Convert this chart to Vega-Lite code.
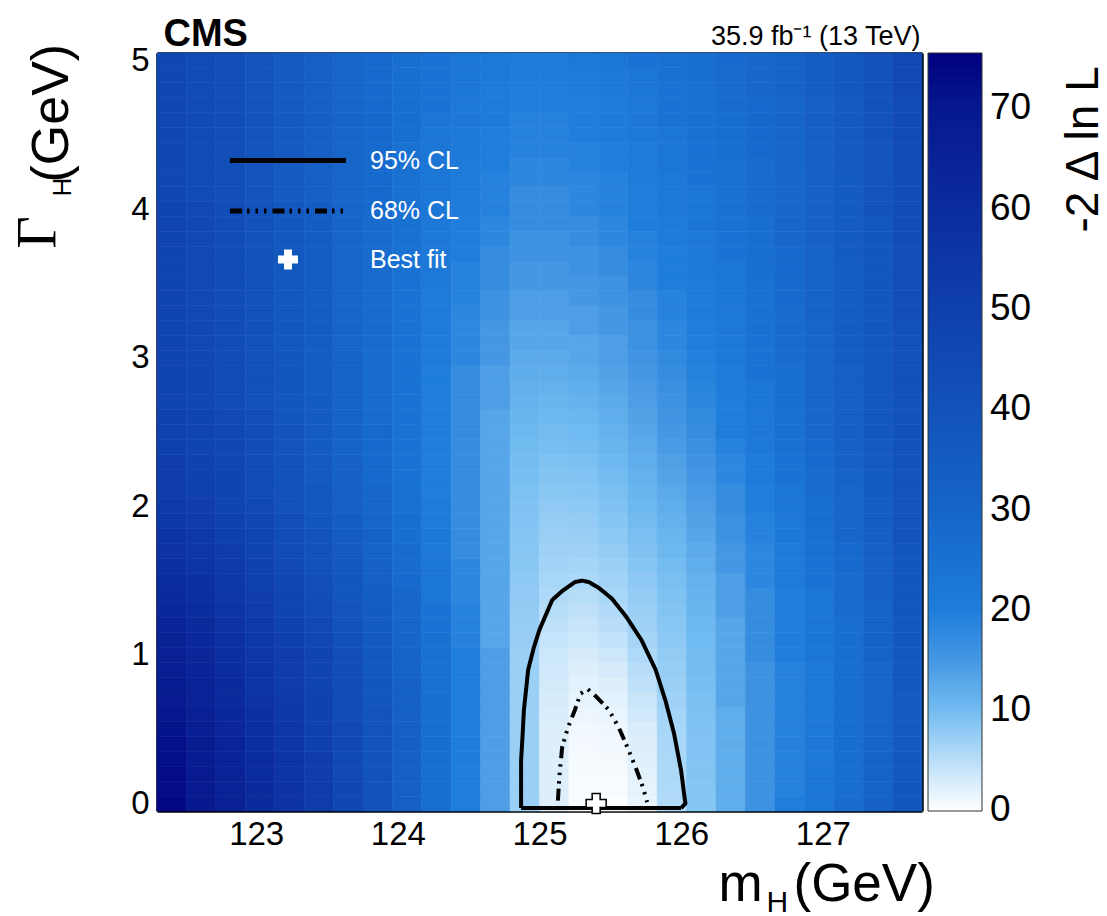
{
"$schema": "https://vega.github.io/schema/vega-lite/v6.json",
"autosize": {"type": "none"},
"width": 765,
"height": 758,
"padding": {"left": 157, "top": 53, "right": 185, "bottom": 105},
"background": "white",
"config": {
  "view": {"stroke": null},
  "font": "Liberation Sans",
  "axis": {"grid": false, "zindex": 1, "labelFont": "Liberation Sans", "titleFont": "Liberation Sans", "titleFontWeight": "normal", "tickColor": "black", "domainColor": "black", "labelColor": "black", "titleColor": "black", "tickWidth": 2, "domainWidth": 2.5, "labelFlush": false, "labelOverlap": false, "labelFontSize": 33, "titlePadding": 0},
  "legend": {"zindex": 1, "labelFont": "Liberation Sans", "padding": 0, "labelLimit": 0}
},
"datasets": {
"cols": [
{"i":0,"m":122.3,"m2":122.5077},{"i":1,"m":122.5077,"m2":122.7154},{"i":2,"m":122.7154,"m2":122.9231},{"i":3,"m":122.9231,"m2":123.1308},{"i":4,"m":123.1308,"m2":123.3385},{"i":5,"m":123.3385,"m2":123.5462},{"i":6,"m":123.5462,"m2":123.7538},{"i":7,"m":123.7538,"m2":123.9615},{"i":8,"m":123.9615,"m2":124.1692},{"i":9,"m":124.1692,"m2":124.3769},{"i":10,"m":124.3769,"m2":124.5846},{"i":11,"m":124.5846,"m2":124.7923},{"i":12,"m":124.7923,"m2":125.0},{"i":13,"m":125.0,"m2":125.2077},{"i":14,"m":125.2077,"m2":125.4154},{"i":15,"m":125.4154,"m2":125.6231},{"i":16,"m":125.6231,"m2":125.8308},{"i":17,"m":125.8308,"m2":126.0385},{"i":18,"m":126.0385,"m2":126.2462},{"i":19,"m":126.2462,"m2":126.4538},{"i":20,"m":126.4538,"m2":126.6615},{"i":21,"m":126.6615,"m2":126.8692},{"i":22,"m":126.8692,"m2":127.0769},{"i":23,"m":127.0769,"m2":127.2846},{"i":24,"m":127.2846,"m2":127.4923},{"i":25,"m":127.4923,"m2":127.7}
],
"rows": [
{"j":0,"g":-0.05,"g2":0.05},{"j":1,"g":0.05,"g2":0.15},{"j":2,"g":0.15,"g2":0.25},{"j":3,"g":0.25,"g2":0.35},{"j":4,"g":0.35,"g2":0.45},{"j":5,"g":0.45,"g2":0.55},{"j":6,"g":0.55,"g2":0.65},{"j":7,"g":0.65,"g2":0.75},{"j":8,"g":0.75,"g2":0.85},{"j":9,"g":0.85,"g2":0.95},{"j":10,"g":0.95,"g2":1.05},{"j":11,"g":1.05,"g2":1.15},{"j":12,"g":1.15,"g2":1.25},{"j":13,"g":1.25,"g2":1.35},{"j":14,"g":1.35,"g2":1.45},{"j":15,"g":1.45,"g2":1.55},{"j":16,"g":1.55,"g2":1.65},{"j":17,"g":1.65,"g2":1.75},{"j":18,"g":1.75,"g2":1.85},{"j":19,"g":1.85,"g2":1.95},{"j":20,"g":1.95,"g2":2.05},{"j":21,"g":2.05,"g2":2.15},{"j":22,"g":2.15,"g2":2.25},{"j":23,"g":2.25,"g2":2.35},{"j":24,"g":2.35,"g2":2.45},{"j":25,"g":2.45,"g2":2.55},{"j":26,"g":2.55,"g2":2.65},{"j":27,"g":2.65,"g2":2.75},{"j":28,"g":2.75,"g2":2.85},{"j":29,"g":2.85,"g2":2.95},{"j":30,"g":2.95,"g2":3.05},{"j":31,"g":3.05,"g2":3.15},{"j":32,"g":3.15,"g2":3.25},{"j":33,"g":3.25,"g2":3.35},{"j":34,"g":3.35,"g2":3.45},{"j":35,"g":3.45,"g2":3.55},{"j":36,"g":3.55,"g2":3.65},{"j":37,"g":3.65,"g2":3.75},{"j":38,"g":3.75,"g2":3.85},{"j":39,"g":3.85,"g2":3.95},{"j":40,"g":3.95,"g2":4.05},{"j":41,"g":4.05,"g2":4.15},{"j":42,"g":4.15,"g2":4.25},{"j":43,"g":4.25,"g2":4.35},{"j":44,"g":4.35,"g2":4.45},{"j":45,"g":4.45,"g2":4.55},{"j":46,"g":4.55,"g2":4.65},{"j":47,"g":4.65,"g2":4.75},{"j":48,"g":4.75,"g2":4.85},{"j":49,"g":4.85,"g2":4.95},{"j":50,"g":4.95,"g2":5.05}
],
"cells": [
{"i":0,"j":0,"z":74},{"i":0,"j":1,"z":73},{"i":0,"j":2,"z":73},{"i":0,"j":3,"z":72},{"i":0,"j":4,"z":72},{"i":0,"j":5,"z":71},{"i":0,"j":6,"z":70},{"i":0,"j":7,"z":69},{"i":0,"j":8,"z":68},{"i":0,"j":9,"z":67},{"i":0,"j":10,"z":66},{"i":0,"j":11,"z":65},{"i":0,"j":12,"z":64},{"i":0,"j":13,"z":62},{"i":0,"j":14,"z":61},{"i":0,"j":15,"z":60},{"i":0,"j":16,"z":59},{"i":0,"j":17,"z":57},{"i":0,"j":18,"z":56},{"i":0,"j":19,"z":54},{"i":0,"j":20,"z":53},{"i":0,"j":21,"z":52},{"i":0,"j":22,"z":51},{"i":0,"j":23,"z":51},{"i":0,"j":24,"z":50},{"i":0,"j":25,"z":49},{"i":0,"j":26,"z":49},{"i":0,"j":27,"z":48},{"i":0,"j":28,"z":48},{"i":0,"j":29,"z":48},{"i":0,"j":30,"z":48},{"i":0,"j":31,"z":47},{"i":0,"j":32,"z":47},{"i":0,"j":33,"z":47},{"i":0,"j":34,"z":47},{"i":0,"j":35,"z":47},{"i":0,"j":36,"z":47},{"i":0,"j":37,"z":47},{"i":0,"j":38,"z":47},{"i":0,"j":39,"z":47},{"i":0,"j":40,"z":47},{"i":0,"j":41,"z":46},{"i":0,"j":42,"z":46},{"i":0,"j":43,"z":46},{"i":0,"j":44,"z":46},{"i":0,"j":45,"z":46},{"i":0,"j":46,"z":46},{"i":0,"j":47,"z":46},{"i":0,"j":48,"z":46},{"i":0,"j":49,"z":46},{"i":0,"j":50,"z":46},
{"i":1,"j":0,"z":70},{"i":1,"j":1,"z":69},{"i":1,"j":2,"z":69},{"i":1,"j":3,"z":68},{"i":1,"j":4,"z":68},{"i":1,"j":5,"z":67},{"i":1,"j":6,"z":66},{"i":1,"j":7,"z":65},{"i":1,"j":8,"z":65},{"i":1,"j":9,"z":64},{"i":1,"j":10,"z":63},{"i":1,"j":11,"z":62},{"i":1,"j":12,"z":61},{"i":1,"j":13,"z":60},{"i":1,"j":14,"z":59},{"i":1,"j":15,"z":58},{"i":1,"j":16,"z":56},{"i":1,"j":17,"z":55},{"i":1,"j":18,"z":54},{"i":1,"j":19,"z":52},{"i":1,"j":20,"z":51},{"i":1,"j":21,"z":50},{"i":1,"j":22,"z":49},{"i":1,"j":23,"z":49},{"i":1,"j":24,"z":48},{"i":1,"j":25,"z":47},{"i":1,"j":26,"z":47},{"i":1,"j":27,"z":46},{"i":1,"j":28,"z":46},{"i":1,"j":29,"z":46},{"i":1,"j":30,"z":46},{"i":1,"j":31,"z":45},{"i":1,"j":32,"z":45},{"i":1,"j":33,"z":45},{"i":1,"j":34,"z":45},{"i":1,"j":35,"z":45},{"i":1,"j":36,"z":45},{"i":1,"j":37,"z":45},{"i":1,"j":38,"z":45},{"i":1,"j":39,"z":45},{"i":1,"j":40,"z":45},{"i":1,"j":41,"z":44},{"i":1,"j":42,"z":44},{"i":1,"j":43,"z":44},{"i":1,"j":44,"z":44},{"i":1,"j":45,"z":44},{"i":1,"j":46,"z":44},{"i":1,"j":47,"z":44},{"i":1,"j":48,"z":44},{"i":1,"j":49,"z":44},{"i":1,"j":50,"z":44},
{"i":2,"j":0,"z":66},{"i":2,"j":1,"z":65},{"i":2,"j":2,"z":65},{"i":2,"j":3,"z":64},{"i":2,"j":4,"z":64},{"i":2,"j":5,"z":63},{"i":2,"j":6,"z":62},{"i":2,"j":7,"z":61},{"i":2,"j":8,"z":61},{"i":2,"j":9,"z":60},{"i":2,"j":10,"z":59},{"i":2,"j":11,"z":58},{"i":2,"j":12,"z":57},{"i":2,"j":13,"z":56},{"i":2,"j":14,"z":55},{"i":2,"j":15,"z":54},{"i":2,"j":16,"z":53},{"i":2,"j":17,"z":52},{"i":2,"j":18,"z":50},{"i":2,"j":19,"z":49},{"i":2,"j":20,"z":48},{"i":2,"j":21,"z":47},{"i":2,"j":22,"z":47},{"i":2,"j":23,"z":46},{"i":2,"j":24,"z":46},{"i":2,"j":25,"z":45},{"i":2,"j":26,"z":45},{"i":2,"j":27,"z":44},{"i":2,"j":28,"z":44},{"i":2,"j":29,"z":44},{"i":2,"j":30,"z":44},{"i":2,"j":31,"z":43},{"i":2,"j":32,"z":43},{"i":2,"j":33,"z":43},{"i":2,"j":34,"z":43},{"i":2,"j":35,"z":43},{"i":2,"j":36,"z":43},{"i":2,"j":37,"z":43},{"i":2,"j":38,"z":43},{"i":2,"j":39,"z":43},{"i":2,"j":40,"z":43},{"i":2,"j":41,"z":42},{"i":2,"j":42,"z":42},{"i":2,"j":43,"z":42},{"i":2,"j":44,"z":42},{"i":2,"j":45,"z":42},{"i":2,"j":46,"z":42},{"i":2,"j":47,"z":42},{"i":2,"j":48,"z":42},{"i":2,"j":49,"z":42},{"i":2,"j":50,"z":42},
{"i":3,"j":0,"z":61},{"i":3,"j":1,"z":61},{"i":3,"j":2,"z":60},{"i":3,"j":3,"z":60},{"i":3,"j":4,"z":59},{"i":3,"j":5,"z":59},{"i":3,"j":6,"z":58},{"i":3,"j":7,"z":57},{"i":3,"j":8,"z":56},{"i":3,"j":9,"z":56},{"i":3,"j":10,"z":55},{"i":3,"j":11,"z":54},{"i":3,"j":12,"z":53},{"i":3,"j":13,"z":52},{"i":3,"j":14,"z":51},{"i":3,"j":15,"z":50},{"i":3,"j":16,"z":49},{"i":3,"j":17,"z":48},{"i":3,"j":18,"z":47},{"i":3,"j":19,"z":46},{"i":3,"j":20,"z":45},{"i":3,"j":21,"z":44},{"i":3,"j":22,"z":44},{"i":3,"j":23,"z":43},{"i":3,"j":24,"z":43},{"i":3,"j":25,"z":42},{"i":3,"j":26,"z":42},{"i":3,"j":27,"z":41},{"i":3,"j":28,"z":41},{"i":3,"j":29,"z":41},{"i":3,"j":30,"z":41},{"i":3,"j":31,"z":40},{"i":3,"j":32,"z":40},{"i":3,"j":33,"z":40},{"i":3,"j":34,"z":40},{"i":3,"j":35,"z":40},{"i":3,"j":36,"z":40},{"i":3,"j":37,"z":40},{"i":3,"j":38,"z":40},{"i":3,"j":39,"z":40},{"i":3,"j":40,"z":40},{"i":3,"j":41,"z":39},{"i":3,"j":42,"z":39},{"i":3,"j":43,"z":39},{"i":3,"j":44,"z":39},{"i":3,"j":45,"z":39},{"i":3,"j":46,"z":39},{"i":3,"j":47,"z":39},{"i":3,"j":48,"z":39},{"i":3,"j":49,"z":39},{"i":3,"j":50,"z":39},
{"i":4,"j":0,"z":57},{"i":4,"j":1,"z":57},{"i":4,"j":2,"z":56},{"i":4,"j":3,"z":56},{"i":4,"j":4,"z":55},{"i":4,"j":5,"z":55},{"i":4,"j":6,"z":54},{"i":4,"j":7,"z":53},{"i":4,"j":8,"z":52},{"i":4,"j":9,"z":52},{"i":4,"j":10,"z":51},{"i":4,"j":11,"z":50},{"i":4,"j":12,"z":49},{"i":4,"j":13,"z":48},{"i":4,"j":14,"z":47},{"i":4,"j":15,"z":46},{"i":4,"j":16,"z":45},{"i":4,"j":17,"z":44},{"i":4,"j":18,"z":43},{"i":4,"j":19,"z":42},{"i":4,"j":20,"z":41},{"i":4,"j":21,"z":41},{"i":4,"j":22,"z":40},{"i":4,"j":23,"z":40},{"i":4,"j":24,"z":39},{"i":4,"j":25,"z":39},{"i":4,"j":26,"z":38},{"i":4,"j":27,"z":38},{"i":4,"j":28,"z":38},{"i":4,"j":29,"z":38},{"i":4,"j":30,"z":38},{"i":4,"j":31,"z":37},{"i":4,"j":32,"z":37},{"i":4,"j":33,"z":37},{"i":4,"j":34,"z":37},{"i":4,"j":35,"z":37},{"i":4,"j":36,"z":37},{"i":4,"j":37,"z":37},{"i":4,"j":38,"z":37},{"i":4,"j":39,"z":37},{"i":4,"j":40,"z":37},{"i":4,"j":41,"z":36},{"i":4,"j":42,"z":36},{"i":4,"j":43,"z":36},{"i":4,"j":44,"z":36},{"i":4,"j":45,"z":36},{"i":4,"j":46,"z":36},{"i":4,"j":47,"z":36},{"i":4,"j":48,"z":36},{"i":4,"j":49,"z":36},{"i":4,"j":50,"z":36},
{"i":5,"j":0,"z":52},{"i":5,"j":1,"z":52},{"i":5,"j":2,"z":51},{"i":5,"j":3,"z":51},{"i":5,"j":4,"z":50},{"i":5,"j":5,"z":50},{"i":5,"j":6,"z":49},{"i":5,"j":7,"z":49},{"i":5,"j":8,"z":48},{"i":5,"j":9,"z":48},{"i":5,"j":10,"z":47},{"i":5,"j":11,"z":46},{"i":5,"j":12,"z":45},{"i":5,"j":13,"z":44},{"i":5,"j":14,"z":43},{"i":5,"j":15,"z":42},{"i":5,"j":16,"z":41},{"i":5,"j":17,"z":40},{"i":5,"j":18,"z":39},{"i":5,"j":19,"z":38},{"i":5,"j":20,"z":37},{"i":5,"j":21,"z":37},{"i":5,"j":22,"z":36},{"i":5,"j":23,"z":36},{"i":5,"j":24,"z":35},{"i":5,"j":25,"z":35},{"i":5,"j":26,"z":35},{"i":5,"j":27,"z":35},{"i":5,"j":28,"z":34},{"i":5,"j":29,"z":34},{"i":5,"j":30,"z":34},{"i":5,"j":31,"z":34},{"i":5,"j":32,"z":34},{"i":5,"j":33,"z":34},{"i":5,"j":34,"z":34},{"i":5,"j":35,"z":34},{"i":5,"j":36,"z":34},{"i":5,"j":37,"z":34},{"i":5,"j":38,"z":34},{"i":5,"j":39,"z":34},{"i":5,"j":40,"z":34},{"i":5,"j":41,"z":33},{"i":5,"j":42,"z":33},{"i":5,"j":43,"z":33},{"i":5,"j":44,"z":33},{"i":5,"j":45,"z":33},{"i":5,"j":46,"z":33},{"i":5,"j":47,"z":33},{"i":5,"j":48,"z":33},{"i":5,"j":49,"z":33},{"i":5,"j":50,"z":33},
{"i":6,"j":0,"z":46},{"i":6,"j":1,"z":46},{"i":6,"j":2,"z":45},{"i":6,"j":3,"z":45},{"i":6,"j":4,"z":45},{"i":6,"j":5,"z":45},{"i":6,"j":6,"z":44},{"i":6,"j":7,"z":44},{"i":6,"j":8,"z":43},{"i":6,"j":9,"z":43},{"i":6,"j":10,"z":42},{"i":6,"j":11,"z":41},{"i":6,"j":12,"z":40},{"i":6,"j":13,"z":39},{"i":6,"j":14,"z":38},{"i":6,"j":15,"z":38},{"i":6,"j":16,"z":37},{"i":6,"j":17,"z":36},{"i":6,"j":18,"z":35},{"i":6,"j":19,"z":34},{"i":6,"j":20,"z":33},{"i":6,"j":21,"z":33},{"i":6,"j":22,"z":32},{"i":6,"j":23,"z":32},{"i":6,"j":24,"z":31},{"i":6,"j":25,"z":31},{"i":6,"j":26,"z":31},{"i":6,"j":27,"z":31},{"i":6,"j":28,"z":31},{"i":6,"j":29,"z":31},{"i":6,"j":30,"z":31},{"i":6,"j":31,"z":30},{"i":6,"j":32,"z":30},{"i":6,"j":33,"z":30},{"i":6,"j":34,"z":30},{"i":6,"j":35,"z":30},{"i":6,"j":36,"z":30},{"i":6,"j":37,"z":30},{"i":6,"j":38,"z":30},{"i":6,"j":39,"z":30},{"i":6,"j":40,"z":30},{"i":6,"j":41,"z":30},{"i":6,"j":42,"z":30},{"i":6,"j":43,"z":30},{"i":6,"j":44,"z":30},{"i":6,"j":45,"z":30},{"i":6,"j":46,"z":30},{"i":6,"j":47,"z":30},{"i":6,"j":48,"z":30},{"i":6,"j":49,"z":30},{"i":6,"j":50,"z":30},
{"i":7,"j":0,"z":40},{"i":7,"j":1,"z":40},{"i":7,"j":2,"z":40},{"i":7,"j":3,"z":39},{"i":7,"j":4,"z":39},{"i":7,"j":5,"z":39},{"i":7,"j":6,"z":39},{"i":7,"j":7,"z":38},{"i":7,"j":8,"z":38},{"i":7,"j":9,"z":37},{"i":7,"j":10,"z":37},{"i":7,"j":11,"z":36},{"i":7,"j":12,"z":35},{"i":7,"j":13,"z":35},{"i":7,"j":14,"z":34},{"i":7,"j":15,"z":33},{"i":7,"j":16,"z":32},{"i":7,"j":17,"z":31},{"i":7,"j":18,"z":31},{"i":7,"j":19,"z":30},{"i":7,"j":20,"z":29},{"i":7,"j":21,"z":29},{"i":7,"j":22,"z":28},{"i":7,"j":23,"z":28},{"i":7,"j":24,"z":28},{"i":7,"j":25,"z":28},{"i":7,"j":26,"z":27},{"i":7,"j":27,"z":27},{"i":7,"j":28,"z":27},{"i":7,"j":29,"z":27},{"i":7,"j":30,"z":27},{"i":7,"j":31,"z":27},{"i":7,"j":32,"z":27},{"i":7,"j":33,"z":27},{"i":7,"j":34,"z":27},{"i":7,"j":35,"z":27},{"i":7,"j":36,"z":27},{"i":7,"j":37,"z":27},{"i":7,"j":38,"z":27},{"i":7,"j":39,"z":27},{"i":7,"j":40,"z":28},{"i":7,"j":41,"z":28},{"i":7,"j":42,"z":28},{"i":7,"j":43,"z":28},{"i":7,"j":44,"z":28},{"i":7,"j":45,"z":28},{"i":7,"j":46,"z":28},{"i":7,"j":47,"z":28},{"i":7,"j":48,"z":28},{"i":7,"j":49,"z":28},{"i":7,"j":50,"z":28},
{"i":8,"j":0,"z":33},{"i":8,"j":1,"z":33},{"i":8,"j":2,"z":33},{"i":8,"j":3,"z":33},{"i":8,"j":4,"z":33},{"i":8,"j":5,"z":33},{"i":8,"j":6,"z":32},{"i":8,"j":7,"z":32},{"i":8,"j":8,"z":32},{"i":8,"j":9,"z":31},{"i":8,"j":10,"z":31},{"i":8,"j":11,"z":30},{"i":8,"j":12,"z":30},{"i":8,"j":13,"z":29},{"i":8,"j":14,"z":29},{"i":8,"j":15,"z":28},{"i":8,"j":16,"z":27},{"i":8,"j":17,"z":27},{"i":8,"j":18,"z":26},{"i":8,"j":19,"z":26},{"i":8,"j":20,"z":25},{"i":8,"j":21,"z":25},{"i":8,"j":22,"z":24},{"i":8,"j":23,"z":24},{"i":8,"j":24,"z":24},{"i":8,"j":25,"z":24},{"i":8,"j":26,"z":24},{"i":8,"j":27,"z":24},{"i":8,"j":28,"z":24},{"i":8,"j":29,"z":24},{"i":8,"j":30,"z":24},{"i":8,"j":31,"z":24},{"i":8,"j":32,"z":24},{"i":8,"j":33,"z":24},{"i":8,"j":34,"z":24},{"i":8,"j":35,"z":24},{"i":8,"j":36,"z":24},{"i":8,"j":37,"z":25},{"i":8,"j":38,"z":25},{"i":8,"j":39,"z":25},{"i":8,"j":40,"z":25},{"i":8,"j":41,"z":25},{"i":8,"j":42,"z":25},{"i":8,"j":43,"z":25},{"i":8,"j":44,"z":25},{"i":8,"j":45,"z":26},{"i":8,"j":46,"z":26},{"i":8,"j":47,"z":26},{"i":8,"j":48,"z":26},{"i":8,"j":49,"z":26},{"i":8,"j":50,"z":26},
{"i":9,"j":0,"z":26},{"i":9,"j":1,"z":26},{"i":9,"j":2,"z":26},{"i":9,"j":3,"z":26},{"i":9,"j":4,"z":26},{"i":9,"j":5,"z":26},{"i":9,"j":6,"z":26},{"i":9,"j":7,"z":26},{"i":9,"j":8,"z":25},{"i":9,"j":9,"z":25},{"i":9,"j":10,"z":25},{"i":9,"j":11,"z":25},{"i":9,"j":12,"z":24},{"i":9,"j":13,"z":24},{"i":9,"j":14,"z":23},{"i":9,"j":15,"z":23},{"i":9,"j":16,"z":23},{"i":9,"j":17,"z":22},{"i":9,"j":18,"z":22},{"i":9,"j":19,"z":21},{"i":9,"j":20,"z":21},{"i":9,"j":21,"z":20},{"i":9,"j":22,"z":20},{"i":9,"j":23,"z":20},{"i":9,"j":24,"z":20},{"i":9,"j":25,"z":20},{"i":9,"j":26,"z":20},{"i":9,"j":27,"z":20},{"i":9,"j":28,"z":20},{"i":9,"j":29,"z":20},{"i":9,"j":30,"z":21},{"i":9,"j":31,"z":21},{"i":9,"j":32,"z":21},{"i":9,"j":33,"z":21},{"i":9,"j":34,"z":21},{"i":9,"j":35,"z":22},{"i":9,"j":36,"z":22},{"i":9,"j":37,"z":22},{"i":9,"j":38,"z":22},{"i":9,"j":39,"z":22},{"i":9,"j":40,"z":23},{"i":9,"j":41,"z":23},{"i":9,"j":42,"z":23},{"i":9,"j":43,"z":23},{"i":9,"j":44,"z":23},{"i":9,"j":45,"z":23},{"i":9,"j":46,"z":23},{"i":9,"j":47,"z":24},{"i":9,"j":48,"z":24},{"i":9,"j":49,"z":24},{"i":9,"j":50,"z":24},
{"i":10,"j":0,"z":20},{"i":10,"j":1,"z":20},{"i":10,"j":2,"z":20},{"i":10,"j":3,"z":20},{"i":10,"j":4,"z":20},{"i":10,"j":5,"z":20},{"i":10,"j":6,"z":20},{"i":10,"j":7,"z":20},{"i":10,"j":8,"z":20},{"i":10,"j":9,"z":20},{"i":10,"j":10,"z":20},{"i":10,"j":11,"z":19},{"i":10,"j":12,"z":19},{"i":10,"j":13,"z":19},{"i":10,"j":14,"z":18},{"i":10,"j":15,"z":18},{"i":10,"j":16,"z":18},{"i":10,"j":17,"z":17},{"i":10,"j":18,"z":17},{"i":10,"j":19,"z":17},{"i":10,"j":20,"z":17},{"i":10,"j":21,"z":17},{"i":10,"j":22,"z":17},{"i":10,"j":23,"z":17},{"i":10,"j":24,"z":17},{"i":10,"j":25,"z":17},{"i":10,"j":26,"z":17},{"i":10,"j":27,"z":17},{"i":10,"j":28,"z":17},{"i":10,"j":29,"z":17},{"i":10,"j":30,"z":18},{"i":10,"j":31,"z":18},{"i":10,"j":32,"z":18},{"i":10,"j":33,"z":18},{"i":10,"j":34,"z":19},{"i":10,"j":35,"z":19},{"i":10,"j":36,"z":19},{"i":10,"j":37,"z":20},{"i":10,"j":38,"z":20},{"i":10,"j":39,"z":20},{"i":10,"j":40,"z":21},{"i":10,"j":41,"z":21},{"i":10,"j":42,"z":21},{"i":10,"j":43,"z":21},{"i":10,"j":44,"z":22},{"i":10,"j":45,"z":22},{"i":10,"j":46,"z":22},{"i":10,"j":47,"z":22},{"i":10,"j":48,"z":23},{"i":10,"j":49,"z":23},{"i":10,"j":50,"z":23},
{"i":11,"j":0,"z":14},{"i":11,"j":1,"z":14},{"i":11,"j":2,"z":14},{"i":11,"j":3,"z":14},{"i":11,"j":4,"z":14},{"i":11,"j":5,"z":14},{"i":11,"j":6,"z":14},{"i":11,"j":7,"z":14},{"i":11,"j":8,"z":14},{"i":11,"j":9,"z":14},{"i":11,"j":10,"z":14},{"i":11,"j":11,"z":13},{"i":11,"j":12,"z":13},{"i":11,"j":13,"z":13},{"i":11,"j":14,"z":13},{"i":11,"j":15,"z":13},{"i":11,"j":16,"z":13},{"i":11,"j":17,"z":13},{"i":11,"j":18,"z":13},{"i":11,"j":19,"z":13},{"i":11,"j":20,"z":13},{"i":11,"j":21,"z":13},{"i":11,"j":22,"z":13},{"i":11,"j":23,"z":13},{"i":11,"j":24,"z":13},{"i":11,"j":25,"z":13},{"i":11,"j":26,"z":13},{"i":11,"j":27,"z":14},{"i":11,"j":28,"z":14},{"i":11,"j":29,"z":14},{"i":11,"j":30,"z":15},{"i":11,"j":31,"z":15},{"i":11,"j":32,"z":15},{"i":11,"j":33,"z":16},{"i":11,"j":34,"z":16},{"i":11,"j":35,"z":17},{"i":11,"j":36,"z":17},{"i":11,"j":37,"z":17},{"i":11,"j":38,"z":18},{"i":11,"j":39,"z":18},{"i":11,"j":40,"z":19},{"i":11,"j":41,"z":19},{"i":11,"j":42,"z":19},{"i":11,"j":43,"z":20},{"i":11,"j":44,"z":20},{"i":11,"j":45,"z":20},{"i":11,"j":46,"z":21},{"i":11,"j":47,"z":21},{"i":11,"j":48,"z":21},{"i":11,"j":49,"z":22},{"i":11,"j":50,"z":22},
{"i":12,"j":0,"z":7},{"i":12,"j":1,"z":7},{"i":12,"j":2,"z":7},{"i":12,"j":3,"z":7},{"i":12,"j":4,"z":7},{"i":12,"j":5,"z":7},{"i":12,"j":6,"z":7},{"i":12,"j":7,"z":7},{"i":12,"j":8,"z":7},{"i":12,"j":9,"z":7},{"i":12,"j":10,"z":7},{"i":12,"j":11,"z":7.2},{"i":12,"j":12,"z":7.4},{"i":12,"j":13,"z":7.6},{"i":12,"j":14,"z":7.8},{"i":12,"j":15,"z":8},{"i":12,"j":16,"z":8.2},{"i":12,"j":17,"z":8.4},{"i":12,"j":18,"z":8.6},{"i":12,"j":19,"z":8.8},{"i":12,"j":20,"z":9},{"i":12,"j":21,"z":9.3},{"i":12,"j":22,"z":9.6},{"i":12,"j":23,"z":9.9},{"i":12,"j":24,"z":10.2},{"i":12,"j":25,"z":10.5},{"i":12,"j":26,"z":10.9},{"i":12,"j":27,"z":11.3},{"i":12,"j":28,"z":11.7},{"i":12,"j":29,"z":12.1},{"i":12,"j":30,"z":12.5},{"i":12,"j":31,"z":13},{"i":12,"j":32,"z":13},{"i":12,"j":33,"z":14},{"i":12,"j":34,"z":14},{"i":12,"j":35,"z":15},{"i":12,"j":36,"z":15},{"i":12,"j":37,"z":16},{"i":12,"j":38,"z":16},{"i":12,"j":39,"z":17},{"i":12,"j":40,"z":17},{"i":12,"j":41,"z":17},{"i":12,"j":42,"z":18},{"i":12,"j":43,"z":18},{"i":12,"j":44,"z":19},{"i":12,"j":45,"z":19},{"i":12,"j":46,"z":19},{"i":12,"j":47,"z":20},{"i":12,"j":48,"z":20},{"i":12,"j":49,"z":21},{"i":12,"j":50,"z":21},
{"i":13,"j":0,"z":3},{"i":13,"j":1,"z":3},{"i":13,"j":2,"z":3},{"i":13,"j":3,"z":3},{"i":13,"j":4,"z":3},{"i":13,"j":5,"z":3},{"i":13,"j":6,"z":3.2},{"i":13,"j":7,"z":3.4},{"i":13,"j":8,"z":3.6},{"i":13,"j":9,"z":3.8},{"i":13,"j":10,"z":4},{"i":13,"j":11,"z":4.4},{"i":13,"j":12,"z":4.8},{"i":13,"j":13,"z":5.2},{"i":13,"j":14,"z":5.6},{"i":13,"j":15,"z":6},{"i":13,"j":16,"z":6.4},{"i":13,"j":17,"z":6.7},{"i":13,"j":18,"z":7.1},{"i":13,"j":19,"z":7.4},{"i":13,"j":20,"z":7.8},{"i":13,"j":21,"z":8.2},{"i":13,"j":22,"z":8.7},{"i":13,"j":23,"z":9.1},{"i":13,"j":24,"z":9.6},{"i":13,"j":25,"z":10},{"i":13,"j":26,"z":10.5},{"i":13,"j":27,"z":11},{"i":13,"j":28,"z":11.5},{"i":13,"j":29,"z":12},{"i":13,"j":30,"z":12.5},{"i":13,"j":31,"z":13},{"i":13,"j":32,"z":13},{"i":13,"j":33,"z":14},{"i":13,"j":34,"z":14},{"i":13,"j":35,"z":15},{"i":13,"j":36,"z":15},{"i":13,"j":37,"z":16},{"i":13,"j":38,"z":16},{"i":13,"j":39,"z":17},{"i":13,"j":40,"z":17},{"i":13,"j":41,"z":17},{"i":13,"j":42,"z":18},{"i":13,"j":43,"z":18},{"i":13,"j":44,"z":19},{"i":13,"j":45,"z":19},{"i":13,"j":46,"z":19},{"i":13,"j":47,"z":20},{"i":13,"j":48,"z":20},{"i":13,"j":49,"z":21},{"i":13,"j":50,"z":21},
{"i":14,"j":0,"z":0.5},{"i":14,"j":1,"z":0.6},{"i":14,"j":2,"z":0.8},{"i":14,"j":3,"z":0.9},{"i":14,"j":4,"z":1.1},{"i":14,"j":5,"z":1.2},{"i":14,"j":6,"z":1.6},{"i":14,"j":7,"z":2.1},{"i":14,"j":8,"z":2.5},{"i":14,"j":9,"z":3},{"i":14,"j":10,"z":3.4},{"i":14,"j":11,"z":3.9},{"i":14,"j":12,"z":4.3},{"i":14,"j":13,"z":4.8},{"i":14,"j":14,"z":5.2},{"i":14,"j":15,"z":5.7},{"i":14,"j":16,"z":6.2},{"i":14,"j":17,"z":6.6},{"i":14,"j":18,"z":7.1},{"i":14,"j":19,"z":7.5},{"i":14,"j":20,"z":8},{"i":14,"j":21,"z":8.5},{"i":14,"j":22,"z":8.9},{"i":14,"j":23,"z":9.4},{"i":14,"j":24,"z":9.8},{"i":14,"j":25,"z":10.3},{"i":14,"j":26,"z":10.8},{"i":14,"j":27,"z":11.4},{"i":14,"j":28,"z":11.9},{"i":14,"j":29,"z":12.5},{"i":14,"j":30,"z":13},{"i":14,"j":31,"z":13},{"i":14,"j":32,"z":14},{"i":14,"j":33,"z":14},{"i":14,"j":34,"z":15},{"i":14,"j":35,"z":15},{"i":14,"j":36,"z":16},{"i":14,"j":37,"z":16},{"i":14,"j":38,"z":17},{"i":14,"j":39,"z":17},{"i":14,"j":40,"z":18},{"i":14,"j":41,"z":18},{"i":14,"j":42,"z":18},{"i":14,"j":43,"z":19},{"i":14,"j":44,"z":19},{"i":14,"j":45,"z":20},{"i":14,"j":46,"z":20},{"i":14,"j":47,"z":20},{"i":14,"j":48,"z":21},{"i":14,"j":49,"z":21},{"i":14,"j":50,"z":22},
{"i":15,"j":0,"z":0.2},{"i":15,"j":1,"z":0.5},{"i":15,"j":2,"z":0.7},{"i":15,"j":3,"z":1},{"i":15,"j":4,"z":1.2},{"i":15,"j":5,"z":1.5},{"i":15,"j":6,"z":2},{"i":15,"j":7,"z":2.5},{"i":15,"j":8,"z":3},{"i":15,"j":9,"z":3.5},{"i":15,"j":10,"z":4},{"i":15,"j":11,"z":4.5},{"i":15,"j":12,"z":5},{"i":15,"j":13,"z":5.5},{"i":15,"j":14,"z":6},{"i":15,"j":15,"z":6.5},{"i":15,"j":16,"z":7},{"i":15,"j":17,"z":7.5},{"i":15,"j":18,"z":8},{"i":15,"j":19,"z":8.5},{"i":15,"j":20,"z":9},{"i":15,"j":21,"z":9.5},{"i":15,"j":22,"z":10},{"i":15,"j":23,"z":10.5},{"i":15,"j":24,"z":11},{"i":15,"j":25,"z":11.5},{"i":15,"j":26,"z":12},{"i":15,"j":27,"z":12.5},{"i":15,"j":28,"z":13},{"i":15,"j":29,"z":13.5},{"i":15,"j":30,"z":14},{"i":15,"j":31,"z":14},{"i":15,"j":32,"z":15},{"i":15,"j":33,"z":15},{"i":15,"j":34,"z":16},{"i":15,"j":35,"z":16},{"i":15,"j":36,"z":17},{"i":15,"j":37,"z":17},{"i":15,"j":38,"z":18},{"i":15,"j":39,"z":18},{"i":15,"j":40,"z":19},{"i":15,"j":41,"z":19},{"i":15,"j":42,"z":19},{"i":15,"j":43,"z":20},{"i":15,"j":44,"z":20},{"i":15,"j":45,"z":21},{"i":15,"j":46,"z":21},{"i":15,"j":47,"z":21},{"i":15,"j":48,"z":22},{"i":15,"j":49,"z":22},{"i":15,"j":50,"z":23},
{"i":16,"j":0,"z":2},{"i":16,"j":1,"z":2.3},{"i":16,"j":2,"z":2.5},{"i":16,"j":3,"z":2.8},{"i":16,"j":4,"z":3},{"i":16,"j":5,"z":3.3},{"i":16,"j":6,"z":3.8},{"i":16,"j":7,"z":4.2},{"i":16,"j":8,"z":4.7},{"i":16,"j":9,"z":5.1},{"i":16,"j":10,"z":5.6},{"i":16,"j":11,"z":6.1},{"i":16,"j":12,"z":6.6},{"i":16,"j":13,"z":7},{"i":16,"j":14,"z":7.5},{"i":16,"j":15,"z":8},{"i":16,"j":16,"z":8.5},{"i":16,"j":17,"z":9},{"i":16,"j":18,"z":9.5},{"i":16,"j":19,"z":10},{"i":16,"j":20,"z":10.5},{"i":16,"j":21,"z":11},{"i":16,"j":22,"z":11.5},{"i":16,"j":23,"z":12},{"i":16,"j":24,"z":12.5},{"i":16,"j":25,"z":13},{"i":16,"j":26,"z":13.5},{"i":16,"j":27,"z":14},{"i":16,"j":28,"z":14.5},{"i":16,"j":29,"z":15},{"i":16,"j":30,"z":15.5},{"i":16,"j":31,"z":16},{"i":16,"j":32,"z":16},{"i":16,"j":33,"z":17},{"i":16,"j":34,"z":17},{"i":16,"j":35,"z":18},{"i":16,"j":36,"z":18},{"i":16,"j":37,"z":19},{"i":16,"j":38,"z":19},{"i":16,"j":39,"z":20},{"i":16,"j":40,"z":20},{"i":16,"j":41,"z":20},{"i":16,"j":42,"z":21},{"i":16,"j":43,"z":21},{"i":16,"j":44,"z":21},{"i":16,"j":45,"z":22},{"i":16,"j":46,"z":22},{"i":16,"j":47,"z":22},{"i":16,"j":48,"z":23},{"i":16,"j":49,"z":23},{"i":16,"j":50,"z":24},
{"i":17,"j":0,"z":5.5},{"i":17,"j":1,"z":5.6},{"i":17,"j":2,"z":5.7},{"i":17,"j":3,"z":5.8},{"i":17,"j":4,"z":5.9},{"i":17,"j":5,"z":6},{"i":17,"j":6,"z":6.3},{"i":17,"j":7,"z":6.6},{"i":17,"j":8,"z":7},{"i":17,"j":9,"z":7.3},{"i":17,"j":10,"z":7.6},{"i":17,"j":11,"z":8},{"i":17,"j":12,"z":8.4},{"i":17,"j":13,"z":8.7},{"i":17,"j":14,"z":9.1},{"i":17,"j":15,"z":9.5},{"i":17,"j":16,"z":10},{"i":17,"j":17,"z":10.5},{"i":17,"j":18,"z":11},{"i":17,"j":19,"z":11.5},{"i":17,"j":20,"z":12},{"i":17,"j":21,"z":12.6},{"i":17,"j":22,"z":13.2},{"i":17,"j":23,"z":13.8},{"i":17,"j":24,"z":14.4},{"i":17,"j":25,"z":15},{"i":17,"j":26,"z":15.5},{"i":17,"j":27,"z":16},{"i":17,"j":28,"z":16.5},{"i":17,"j":29,"z":17},{"i":17,"j":30,"z":17.5},{"i":17,"j":31,"z":18},{"i":17,"j":32,"z":18},{"i":17,"j":33,"z":19},{"i":17,"j":34,"z":19},{"i":17,"j":35,"z":20},{"i":17,"j":36,"z":20},{"i":17,"j":37,"z":20},{"i":17,"j":38,"z":21},{"i":17,"j":39,"z":21},{"i":17,"j":40,"z":22},{"i":17,"j":41,"z":22},{"i":17,"j":42,"z":22},{"i":17,"j":43,"z":23},{"i":17,"j":44,"z":23},{"i":17,"j":45,"z":23},{"i":17,"j":46,"z":24},{"i":17,"j":47,"z":24},{"i":17,"j":48,"z":24},{"i":17,"j":49,"z":25},{"i":17,"j":50,"z":25},
{"i":18,"j":0,"z":8.5},{"i":18,"j":1,"z":8.6},{"i":18,"j":2,"z":8.7},{"i":18,"j":3,"z":8.8},{"i":18,"j":4,"z":8.9},{"i":18,"j":5,"z":9},{"i":18,"j":6,"z":9.2},{"i":18,"j":7,"z":9.4},{"i":18,"j":8,"z":9.6},{"i":18,"j":9,"z":9.8},{"i":18,"j":10,"z":10},{"i":18,"j":11,"z":10.3},{"i":18,"j":12,"z":10.6},{"i":18,"j":13,"z":10.9},{"i":18,"j":14,"z":11.2},{"i":18,"j":15,"z":11.5},{"i":18,"j":16,"z":12},{"i":18,"j":17,"z":12.5},{"i":18,"j":18,"z":13},{"i":18,"j":19,"z":13.5},{"i":18,"j":20,"z":14},{"i":18,"j":21,"z":14.6},{"i":18,"j":22,"z":15.2},{"i":18,"j":23,"z":15.8},{"i":18,"j":24,"z":16.4},{"i":18,"j":25,"z":17},{"i":18,"j":26,"z":17.5},{"i":18,"j":27,"z":18},{"i":18,"j":28,"z":18.5},{"i":18,"j":29,"z":19},{"i":18,"j":30,"z":19.5},{"i":18,"j":31,"z":20},{"i":18,"j":32,"z":20},{"i":18,"j":33,"z":21},{"i":18,"j":34,"z":21},{"i":18,"j":35,"z":21},{"i":18,"j":36,"z":22},{"i":18,"j":37,"z":22},{"i":18,"j":38,"z":22},{"i":18,"j":39,"z":23},{"i":18,"j":40,"z":23},{"i":18,"j":41,"z":23},{"i":18,"j":42,"z":24},{"i":18,"j":43,"z":24},{"i":18,"j":44,"z":24},{"i":18,"j":45,"z":25},{"i":18,"j":46,"z":25},{"i":18,"j":47,"z":25},{"i":18,"j":48,"z":25},{"i":18,"j":49,"z":26},{"i":18,"j":50,"z":26},
{"i":19,"j":0,"z":12},{"i":19,"j":1,"z":12},{"i":19,"j":2,"z":12},{"i":19,"j":3,"z":12},{"i":19,"j":4,"z":12},{"i":19,"j":5,"z":12},{"i":19,"j":6,"z":12},{"i":19,"j":7,"z":13},{"i":19,"j":8,"z":13},{"i":19,"j":9,"z":13},{"i":19,"j":10,"z":13},{"i":19,"j":11,"z":13},{"i":19,"j":12,"z":13},{"i":19,"j":13,"z":14},{"i":19,"j":14,"z":14},{"i":19,"j":15,"z":14},{"i":19,"j":16,"z":15},{"i":19,"j":17,"z":15},{"i":19,"j":18,"z":16},{"i":19,"j":19,"z":16},{"i":19,"j":20,"z":17},{"i":19,"j":21,"z":17},{"i":19,"j":22,"z":18},{"i":19,"j":23,"z":18},{"i":19,"j":24,"z":19},{"i":19,"j":25,"z":20},{"i":19,"j":26,"z":20},{"i":19,"j":27,"z":20},{"i":19,"j":28,"z":21},{"i":19,"j":29,"z":21},{"i":19,"j":30,"z":22},{"i":19,"j":31,"z":22},{"i":19,"j":32,"z":22},{"i":19,"j":33,"z":22},{"i":19,"j":34,"z":23},{"i":19,"j":35,"z":23},{"i":19,"j":36,"z":23},{"i":19,"j":37,"z":24},{"i":19,"j":38,"z":24},{"i":19,"j":39,"z":24},{"i":19,"j":40,"z":25},{"i":19,"j":41,"z":25},{"i":19,"j":42,"z":25},{"i":19,"j":43,"z":25},{"i":19,"j":44,"z":26},{"i":19,"j":45,"z":26},{"i":19,"j":46,"z":26},{"i":19,"j":47,"z":27},{"i":19,"j":48,"z":27},{"i":19,"j":49,"z":27},{"i":19,"j":50,"z":28},
{"i":20,"j":0,"z":16},{"i":20,"j":1,"z":16},{"i":20,"j":2,"z":16},{"i":20,"j":3,"z":16},{"i":20,"j":4,"z":16},{"i":20,"j":5,"z":16},{"i":20,"j":6,"z":16},{"i":20,"j":7,"z":16},{"i":20,"j":8,"z":16},{"i":20,"j":9,"z":16},{"i":20,"j":10,"z":17},{"i":20,"j":11,"z":17},{"i":20,"j":12,"z":17},{"i":20,"j":13,"z":17},{"i":20,"j":14,"z":17},{"i":20,"j":15,"z":18},{"i":20,"j":16,"z":18},{"i":20,"j":17,"z":18},{"i":20,"j":18,"z":19},{"i":20,"j":19,"z":19},{"i":20,"j":20,"z":20},{"i":20,"j":21,"z":20},{"i":20,"j":22,"z":21},{"i":20,"j":23,"z":21},{"i":20,"j":24,"z":22},{"i":20,"j":25,"z":22},{"i":20,"j":26,"z":22},{"i":20,"j":27,"z":23},{"i":20,"j":28,"z":23},{"i":20,"j":29,"z":24},{"i":20,"j":30,"z":24},{"i":20,"j":31,"z":24},{"i":20,"j":32,"z":25},{"i":20,"j":33,"z":25},{"i":20,"j":34,"z":25},{"i":20,"j":35,"z":25},{"i":20,"j":36,"z":26},{"i":20,"j":37,"z":26},{"i":20,"j":38,"z":26},{"i":20,"j":39,"z":26},{"i":20,"j":40,"z":27},{"i":20,"j":41,"z":27},{"i":20,"j":42,"z":27},{"i":20,"j":43,"z":27},{"i":20,"j":44,"z":28},{"i":20,"j":45,"z":28},{"i":20,"j":46,"z":28},{"i":20,"j":47,"z":28},{"i":20,"j":48,"z":29},{"i":20,"j":49,"z":29},{"i":20,"j":50,"z":29},
{"i":21,"j":0,"z":20},{"i":21,"j":1,"z":19},{"i":21,"j":2,"z":19},{"i":21,"j":3,"z":19},{"i":21,"j":4,"z":19},{"i":21,"j":5,"z":19},{"i":21,"j":6,"z":19},{"i":21,"j":7,"z":19},{"i":21,"j":8,"z":19},{"i":21,"j":9,"z":19},{"i":21,"j":10,"z":20},{"i":21,"j":11,"z":20},{"i":21,"j":12,"z":20},{"i":21,"j":13,"z":20},{"i":21,"j":14,"z":20},{"i":21,"j":15,"z":21},{"i":21,"j":16,"z":21},{"i":21,"j":17,"z":21},{"i":21,"j":18,"z":22},{"i":21,"j":19,"z":22},{"i":21,"j":20,"z":23},{"i":21,"j":21,"z":23},{"i":21,"j":22,"z":24},{"i":21,"j":23,"z":24},{"i":21,"j":24,"z":25},{"i":21,"j":25,"z":25},{"i":21,"j":26,"z":25},{"i":21,"j":27,"z":26},{"i":21,"j":28,"z":26},{"i":21,"j":29,"z":26},{"i":21,"j":30,"z":27},{"i":21,"j":31,"z":27},{"i":21,"j":32,"z":27},{"i":21,"j":33,"z":27},{"i":21,"j":34,"z":28},{"i":21,"j":35,"z":28},{"i":21,"j":36,"z":28},{"i":21,"j":37,"z":28},{"i":21,"j":38,"z":29},{"i":21,"j":39,"z":29},{"i":21,"j":40,"z":29},{"i":21,"j":41,"z":29},{"i":21,"j":42,"z":29},{"i":21,"j":43,"z":30},{"i":21,"j":44,"z":30},{"i":21,"j":45,"z":30},{"i":21,"j":46,"z":30},{"i":21,"j":47,"z":30},{"i":21,"j":48,"z":31},{"i":21,"j":49,"z":31},{"i":21,"j":50,"z":31},
{"i":22,"j":0,"z":23},{"i":22,"j":1,"z":23},{"i":22,"j":2,"z":23},{"i":22,"j":3,"z":22},{"i":22,"j":4,"z":22},{"i":22,"j":5,"z":22},{"i":22,"j":6,"z":22},{"i":22,"j":7,"z":22},{"i":22,"j":8,"z":22},{"i":22,"j":9,"z":22},{"i":22,"j":10,"z":23},{"i":22,"j":11,"z":23},{"i":22,"j":12,"z":23},{"i":22,"j":13,"z":23},{"i":22,"j":14,"z":23},{"i":22,"j":15,"z":24},{"i":22,"j":16,"z":24},{"i":22,"j":17,"z":25},{"i":22,"j":18,"z":25},{"i":22,"j":19,"z":26},{"i":22,"j":20,"z":26},{"i":22,"j":21,"z":27},{"i":22,"j":22,"z":27},{"i":22,"j":23,"z":28},{"i":22,"j":24,"z":28},{"i":22,"j":25,"z":29},{"i":22,"j":26,"z":29},{"i":22,"j":27,"z":29},{"i":22,"j":28,"z":30},{"i":22,"j":29,"z":30},{"i":22,"j":30,"z":30},{"i":22,"j":31,"z":30},{"i":22,"j":32,"z":30},{"i":22,"j":33,"z":31},{"i":22,"j":34,"z":31},{"i":22,"j":35,"z":31},{"i":22,"j":36,"z":31},{"i":22,"j":37,"z":31},{"i":22,"j":38,"z":32},{"i":22,"j":39,"z":32},{"i":22,"j":40,"z":32},{"i":22,"j":41,"z":32},{"i":22,"j":42,"z":32},{"i":22,"j":43,"z":33},{"i":22,"j":44,"z":33},{"i":22,"j":45,"z":33},{"i":22,"j":46,"z":33},{"i":22,"j":47,"z":33},{"i":22,"j":48,"z":34},{"i":22,"j":49,"z":34},{"i":22,"j":50,"z":34},
{"i":23,"j":0,"z":27},{"i":23,"j":1,"z":26},{"i":23,"j":2,"z":26},{"i":23,"j":3,"z":26},{"i":23,"j":4,"z":26},{"i":23,"j":5,"z":26},{"i":23,"j":6,"z":26},{"i":23,"j":7,"z":26},{"i":23,"j":8,"z":26},{"i":23,"j":9,"z":26},{"i":23,"j":10,"z":26},{"i":23,"j":11,"z":26},{"i":23,"j":12,"z":26},{"i":23,"j":13,"z":27},{"i":23,"j":14,"z":27},{"i":23,"j":15,"z":27},{"i":23,"j":16,"z":28},{"i":23,"j":17,"z":28},{"i":23,"j":18,"z":29},{"i":23,"j":19,"z":29},{"i":23,"j":20,"z":30},{"i":23,"j":21,"z":30},{"i":23,"j":22,"z":31},{"i":23,"j":23,"z":32},{"i":23,"j":24,"z":32},{"i":23,"j":25,"z":33},{"i":23,"j":26,"z":33},{"i":23,"j":27,"z":33},{"i":23,"j":28,"z":33},{"i":23,"j":29,"z":33},{"i":23,"j":30,"z":34},{"i":23,"j":31,"z":34},{"i":23,"j":32,"z":34},{"i":23,"j":33,"z":34},{"i":23,"j":34,"z":34},{"i":23,"j":35,"z":34},{"i":23,"j":36,"z":34},{"i":23,"j":37,"z":35},{"i":23,"j":38,"z":35},{"i":23,"j":39,"z":35},{"i":23,"j":40,"z":35},{"i":23,"j":41,"z":35},{"i":23,"j":42,"z":35},{"i":23,"j":43,"z":36},{"i":23,"j":44,"z":36},{"i":23,"j":45,"z":36},{"i":23,"j":46,"z":36},{"i":23,"j":47,"z":36},{"i":23,"j":48,"z":37},{"i":23,"j":49,"z":37},{"i":23,"j":50,"z":37},
{"i":24,"j":0,"z":32},{"i":24,"j":1,"z":31},{"i":24,"j":2,"z":31},{"i":24,"j":3,"z":31},{"i":24,"j":4,"z":30},{"i":24,"j":5,"z":30},{"i":24,"j":6,"z":30},{"i":24,"j":7,"z":30},{"i":24,"j":8,"z":30},{"i":24,"j":9,"z":30},{"i":24,"j":10,"z":31},{"i":24,"j":11,"z":31},{"i":24,"j":12,"z":31},{"i":24,"j":13,"z":31},{"i":24,"j":14,"z":32},{"i":24,"j":15,"z":32},{"i":24,"j":16,"z":32},{"i":24,"j":17,"z":33},{"i":24,"j":18,"z":33},{"i":24,"j":19,"z":34},{"i":24,"j":20,"z":34},{"i":24,"j":21,"z":35},{"i":24,"j":22,"z":35},{"i":24,"j":23,"z":36},{"i":24,"j":24,"z":36},{"i":24,"j":25,"z":37},{"i":24,"j":26,"z":37},{"i":24,"j":27,"z":37},{"i":24,"j":28,"z":37},{"i":24,"j":29,"z":37},{"i":24,"j":30,"z":37},{"i":24,"j":31,"z":37},{"i":24,"j":32,"z":37},{"i":24,"j":33,"z":37},{"i":24,"j":34,"z":38},{"i":24,"j":35,"z":38},{"i":24,"j":36,"z":38},{"i":24,"j":37,"z":38},{"i":24,"j":38,"z":38},{"i":24,"j":39,"z":38},{"i":24,"j":40,"z":39},{"i":24,"j":41,"z":39},{"i":24,"j":42,"z":39},{"i":24,"j":43,"z":39},{"i":24,"j":44,"z":39},{"i":24,"j":45,"z":40},{"i":24,"j":46,"z":40},{"i":24,"j":47,"z":40},{"i":24,"j":48,"z":40},{"i":24,"j":49,"z":40},{"i":24,"j":50,"z":41},
{"i":25,"j":0,"z":38},{"i":25,"j":1,"z":38},{"i":25,"j":2,"z":37},{"i":25,"j":3,"z":37},{"i":25,"j":4,"z":36},{"i":25,"j":5,"z":36},{"i":25,"j":6,"z":36},{"i":25,"j":7,"z":36},{"i":25,"j":8,"z":37},{"i":25,"j":9,"z":37},{"i":25,"j":10,"z":37},{"i":25,"j":11,"z":37},{"i":25,"j":12,"z":37},{"i":25,"j":13,"z":38},{"i":25,"j":14,"z":38},{"i":25,"j":15,"z":38},{"i":25,"j":16,"z":38},{"i":25,"j":17,"z":38},{"i":25,"j":18,"z":39},{"i":25,"j":19,"z":39},{"i":25,"j":20,"z":39},{"i":25,"j":21,"z":39},{"i":25,"j":22,"z":39},{"i":25,"j":23,"z":40},{"i":25,"j":24,"z":40},{"i":25,"j":25,"z":40},{"i":25,"j":26,"z":40},{"i":25,"j":27,"z":40},{"i":25,"j":28,"z":41},{"i":25,"j":29,"z":41},{"i":25,"j":30,"z":41},{"i":25,"j":31,"z":41},{"i":25,"j":32,"z":41},{"i":25,"j":33,"z":42},{"i":25,"j":34,"z":42},{"i":25,"j":35,"z":42},{"i":25,"j":36,"z":42},{"i":25,"j":37,"z":42},{"i":25,"j":38,"z":43},{"i":25,"j":39,"z":43},{"i":25,"j":40,"z":43},{"i":25,"j":41,"z":43},{"i":25,"j":42,"z":43},{"i":25,"j":43,"z":44},{"i":25,"j":44,"z":44},{"i":25,"j":45,"z":44},{"i":25,"j":46,"z":44},{"i":25,"j":47,"z":44},{"i":25,"j":48,"z":45},{"i":25,"j":49,"z":45},{"i":25,"j":50,"z":45}
],
"cl95": [
{"k":0,"m":124.87,"g":-0.03,"cl":"95% CL"},{"k":1,"m":124.87,"g":0.1,"cl":"95% CL"},{"k":2,"m":124.87,"g":0.29,"cl":"95% CL"},{"k":3,"m":124.88,"g":0.45,"cl":"95% CL"},{"k":4,"m":124.89,"g":0.63,"cl":"95% CL"},{"k":5,"m":124.92,"g":0.9,"cl":"95% CL"},{"k":6,"m":124.96,"g":1.05,"cl":"95% CL"},{"k":7,"m":125.0,"g":1.17,"cl":"95% CL"},{"k":8,"m":125.09,"g":1.37,"cl":"95% CL"},{"k":9,"m":125.16,"g":1.43,"cl":"95% CL"},{"k":10,"m":125.25,"g":1.49,"cl":"95% CL"},{"k":11,"m":125.3,"g":1.5,"cl":"95% CL"},{"k":12,"m":125.35,"g":1.49,"cl":"95% CL"},{"k":13,"m":125.42,"g":1.45,"cl":"95% CL"},{"k":14,"m":125.51,"g":1.38,"cl":"95% CL"},{"k":15,"m":125.61,"g":1.26,"cl":"95% CL"},{"k":16,"m":125.72,"g":1.1,"cl":"95% CL"},{"k":17,"m":125.82,"g":0.9,"cl":"95% CL"},{"k":18,"m":125.89,"g":0.69,"cl":"95% CL"},{"k":19,"m":125.95,"g":0.47,"cl":"95% CL"},{"k":20,"m":126.0,"g":0.22,"cl":"95% CL"},{"k":21,"m":126.02,"g":0.07,"cl":"95% CL"},{"k":22,"m":126.03,"g":0.0,"cl":"95% CL"},{"k":23,"m":126.0,"g":-0.03,"cl":"95% CL"}
],
"cl95base": [
{"k":0,"m":126.0,"g":-0.03,"cl":"95% CL"},{"k":1,"m":124.87,"g":-0.03,"cl":"95% CL"}
],
"cl68": [
{"k":0,"m":125.13,"g":0.02,"cl":"68% CL"},{"k":1,"m":125.14,"g":0.18,"cl":"68% CL"},{"k":2,"m":125.16,"g":0.38,"cl":"68% CL"},{"k":3,"m":125.2,"g":0.51,"cl":"68% CL"},{"k":4,"m":125.25,"g":0.63,"cl":"68% CL"},{"k":5,"m":125.29,"g":0.74,"cl":"68% CL"},{"k":6,"m":125.34,"g":0.77,"cl":"68% CL"},{"k":7,"m":125.4,"g":0.72,"cl":"68% CL"},{"k":8,"m":125.49,"g":0.63,"cl":"68% CL"},{"k":9,"m":125.56,"g":0.51,"cl":"68% CL"},{"k":10,"m":125.62,"g":0.38,"cl":"68% CL"},{"k":11,"m":125.68,"g":0.24,"cl":"68% CL"},{"k":12,"m":125.73,"g":0.11,"cl":"68% CL"},{"k":13,"m":125.76,"g":0.01,"cl":"68% CL"}
],
"best": [
{"m":125.4,"g":0.0,"label":"Best fit"}
]
},
"resolve": {"axis": {"x": "independent", "y": "independent"}},
"layer": [
{
  "data": {"name": "cells"},
  "transform": [
    {"lookup": "i", "from": {"data": {"name": "cols"}, "key": "i", "fields": ["m", "m2"]}},
    {"lookup": "j", "from": {"data": {"name": "rows"}, "key": "j", "fields": ["g", "g2"]}}
  ],
  "mark": {"type": "rect", "strokeWidth": 0.6, "stroke": {"expr": "scale('color', datum.z)"}},
  "encoding": {
    "x": {"field": "m", "type": "quantitative", "scale": {"domain": [122.3, 127.7], "nice": false, "zero": false},
      "axis": {"orient": "bottom", "values": [123, 124, 125, 126, 127], "tickSize": -18, "labelPadding": 25, "domain": true, "title": "m", "titleFontSize": 53, "titleX": 561, "titleY": 89, "titleAlign": "left", "titleBaseline": "alphabetic", "titleAngle": 0}},
    "x2": {"field": "m2"},
    "y": {"field": "g", "type": "quantitative", "scale": {"domain": [-0.05, 5.05], "nice": false, "zero": false},
      "axis": {"orient": "left", "values": [0, 1, 2, 3, 4, 5], "tickSize": -29, "labelPadding": 37, "domain": true, "title": "Γ", "titleFont": "Liberation Serif", "titleFontSize": 56, "titleX": -102, "titleY": 195, "titleAngle": 270, "titleAlign": "left", "titleBaseline": "alphabetic"}},
    "y2": {"field": "g2"},
    "color": {"field": "z", "type": "quantitative",
      "scale": {"domain": [-0.05, 3, 6, 10, 15, 20, 25, 30, 40, 50, 60, 70, 75.5], "range": ["#ffffff", "#deeffc", "#a8d6f7", "#72bcf1", "#4597e3", "#1f7ddb", "#1971d2", "#1665c9", "#1252bb", "#0f40ad", "#0b2c9e", "#06188e", "#000080"], "interpolate": "rgb", "clamp": true},
      "legend": {"type": "gradient", "orient": "none", "legendX": 771, "legendY": 0, "direction": "vertical", "gradientLength": 758, "gradientThickness": 54, "title": null, "values": [0, 10, 20, 30, 40, 50, 60, 70], "labelFontSize": 37, "labelOffset": 8, "labelColor": "black", "labelBaseline": "middle", "gradientStrokeColor": "#333333", "gradientStrokeWidth": 1, "labelOverlap": false}}
  }
},
{
  "data": {"name": "cl95"},
  "mark": {"type": "line", "color": "black", "strokeWidth": 4, "strokeJoin": "round"},
  "encoding": {
    "x": {"field": "m", "type": "quantitative", "scale": {"domain": [122.3, 127.7], "nice": false, "zero": false},
      "axis": {"orient": "bottom", "values": [122.4, 122.6, 122.8, 123.2, 123.4, 123.6, 123.8, 124.2, 124.4, 124.6, 124.8, 125.2, 125.4, 125.6, 125.8, 126.2, 126.4, 126.6, 126.8, 127.2, 127.4, 127.6], "tickSize": -9, "labels": false, "domain": false, "title": "H", "titleFontSize": 30, "titleX": 609, "titleY": 100, "titleAlign": "left", "titleBaseline": "alphabetic", "titleAngle": 0}},
    "y": {"field": "g", "type": "quantitative", "scale": {"domain": [-0.05, 5.05], "nice": false, "zero": false},
      "axis": {"orient": "left", "values": [0.2, 0.4, 0.6, 0.8, 1.2, 1.4, 1.6, 1.8, 2.2, 2.4, 2.6, 2.8, 3.2, 3.4, 3.6, 3.8, 4.2, 4.4, 4.6, 4.8], "tickSize": -15, "labels": false, "domain": false, "title": "H", "titleFontSize": 26, "titleX": -87, "titleY": 143, "titleAngle": 270, "titleAlign": "left", "titleBaseline": "alphabetic"}},
    "order": {"field": "k", "type": "quantitative"},
    "strokeDash": {"field": "cl", "type": "nominal", "scale": {"domain": ["95% CL", "68% CL"], "range": [[1, 0], [12, 5, 2.5, 6, 2.5, 6, 2.5, 6]]},
      "legend": {"orient": "none", "legendX": 70.5, "legendY": 95, "title": null, "symbolType": "stroke", "symbolSize": 13456, "symbolStrokeWidth": 5, "symbolStrokeColor": "black", "clipHeight": 25, "rowPadding": 24.5, "labelOffset": 21.5, "labelFontSize": 25, "labelColor": "white"}}
  }
},
{
  "data": {"name": "cl95base"},
  "mark": {"type": "line", "color": "black", "strokeWidth": 4, "strokeJoin": "round"},
  "encoding": {
    "x": {"field": "m", "type": "quantitative", "scale": {"domain": [122.3, 127.7], "nice": false, "zero": false},
      "axis": {"orient": "bottom", "ticks": false, "labels": false, "domain": false, "title": "(GeV)", "titleFontSize": 53, "titleX": 636, "titleY": 89, "titleAlign": "left", "titleBaseline": "alphabetic", "titleAngle": 0}},
    "y": {"field": "g", "type": "quantitative", "scale": {"domain": [-0.05, 5.05], "nice": false, "zero": false}, "axis": null},
    "order": {"field": "k", "type": "quantitative"},
    "strokeDash": {"field": "cl", "type": "nominal", "scale": {"domain": ["95% CL", "68% CL"], "range": [[1, 0], [12, 5, 2.5, 6, 2.5, 6, 2.5, 6]]},
      "legend": {"orient": "none", "legendX": 70.5, "legendY": 95, "title": null, "symbolType": "stroke", "symbolSize": 13456, "symbolStrokeWidth": 5, "symbolStrokeColor": "black", "clipHeight": 25, "rowPadding": 24.5, "labelOffset": 21.5, "labelFontSize": 25, "labelColor": "white"}}
  }
},
{
  "data": {"name": "cl68"},
  "mark": {"type": "line", "color": "black", "strokeWidth": 4, "strokeJoin": "round"},
  "encoding": {
    "x": {"field": "m", "type": "quantitative", "scale": {"domain": [122.3, 127.7], "nice": false, "zero": false},
      "axis": {"orient": "top", "values": [123, 124, 125, 126, 127], "tickSize": -18, "labels": false, "domain": true, "title": "35.9 fb⁻¹ (13 TeV)", "titleFontSize": 27, "titleX": 763, "titleY": -9, "titleAlign": "right", "titleBaseline": "alphabetic", "titleAngle": 0}},
    "y": {"field": "g", "type": "quantitative", "scale": {"domain": [-0.05, 5.05], "nice": false, "zero": false},
      "axis": {"orient": "right", "values": [0, 1, 2, 3, 4, 5], "tickSize": -29, "labels": false, "domain": true, "title": "-2 Δ ln L", "titleFontSize": 46, "titleX": 175, "titleY": 179, "titleAngle": 270, "titleAlign": "left", "titleBaseline": "alphabetic"}},
    "order": {"field": "k", "type": "quantitative"},
    "strokeDash": {"field": "cl", "type": "nominal", "scale": {"domain": ["95% CL", "68% CL"], "range": [[1, 0], [12, 5, 2.5, 6, 2.5, 6, 2.5, 6]]},
      "legend": {"orient": "none", "legendX": 70.5, "legendY": 95, "title": null, "symbolType": "stroke", "symbolSize": 13456, "symbolStrokeWidth": 5, "symbolStrokeColor": "black", "clipHeight": 25, "rowPadding": 24.5, "labelOffset": 21.5, "labelFontSize": 25, "labelColor": "white"}}
  }
},
{
  "data": {"name": "best"},
  "mark": {"type": "point", "filled": true, "fill": "white", "stroke": "black", "strokeWidth": 1.5, "size": 400, "opacity": 1},
  "encoding": {
    "x": {"field": "m", "type": "quantitative", "scale": {"domain": [122.3, 127.7], "nice": false, "zero": false},
      "axis": {"orient": "top", "values": [122.4, 122.6, 122.8, 123.2, 123.4, 123.6, 123.8, 124.2, 124.4, 124.6, 124.8, 125.2, 125.4, 125.6, 125.8, 126.2, 126.4, 126.6, 126.8, 127.2, 127.4, 127.6], "tickSize": -9, "labels": false, "domain": false, "title": "CMS", "titleFontSize": 38, "titleFontWeight": "bold", "titleX": 6, "titleY": -8, "titleAlign": "left", "titleBaseline": "alphabetic", "titleAngle": 0}},
    "y": {"field": "g", "type": "quantitative", "scale": {"domain": [-0.05, 5.05], "nice": false, "zero": false},
      "axis": {"orient": "right", "values": [0.2, 0.4, 0.6, 0.8, 1.2, 1.4, 1.6, 1.8, 2.2, 2.4, 2.6, 2.8, 3.2, 3.4, 3.6, 3.8, 4.2, 4.4, 4.6, 4.8], "tickSize": -15, "labels": false, "domain": false, "title": "(GeV)", "titleFontSize": 52, "titleX": -855, "titleY": 129, "titleAngle": 270, "titleAlign": "left", "titleBaseline": "alphabetic"}},
    "shape": {"field": "label", "type": "nominal", "scale": {"domain": ["Best fit"], "range": ["cross"]},
      "legend": {"orient": "none", "legendX": 118.5, "legendY": 194, "title": null, "symbolSize": 400, "symbolStrokeWidth": 1.5, "symbolStrokeColor": "black", "symbolFillColor": "white", "symbolOpacity": 1, "labelOffset": 69.5, "labelFontSize": 25, "labelColor": "white"}}
  }
}
]
}
